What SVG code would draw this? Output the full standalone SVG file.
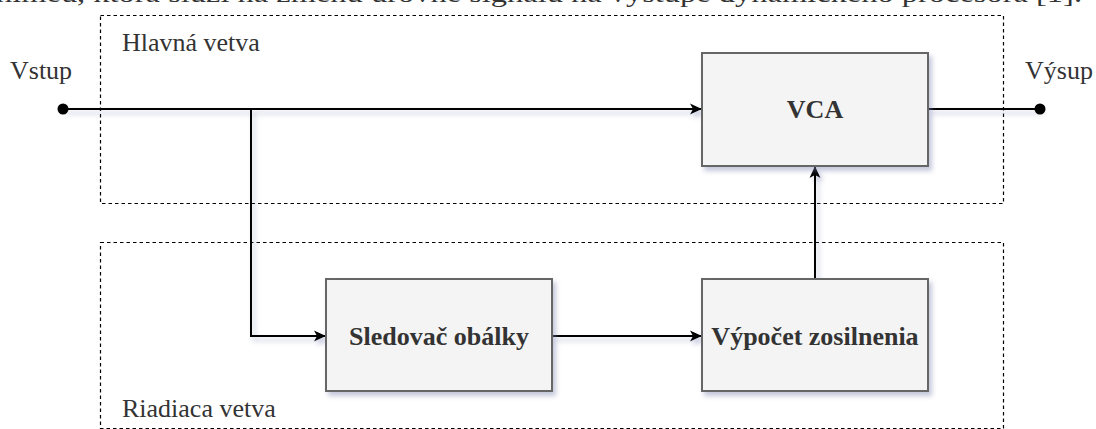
<svg xmlns="http://www.w3.org/2000/svg" width="1096" height="429" viewBox="0 0 1096 429">
<style>
.t{font-family:"Liberation Serif","Times New Roman",serif;fill:#333}
.lbl{font-size:26px;font-weight:bold;text-anchor:middle}
.reg{font-size:26px}
.box{fill:#f4f4f4;stroke:#666;stroke-width:2}
.grp{fill:none;stroke:#000;stroke-width:1.2;stroke-dasharray:3.5 3}
.ln{fill:none;stroke:#000;stroke-width:2}
</style>
<defs>
<filter id="sh" x="-10%" y="-10%" width="130%" height="140%">
<feDropShadow dx="3" dy="4" stdDeviation="2.5" flood-color="#7a84b0" flood-opacity="0.45"/>
</filter>
<marker id="ar" markerWidth="12" markerHeight="12" refX="11" refY="6" orient="auto" markerUnits="userSpaceOnUse">
<path d="M0,0.5 L12,6 L0,11.5 L3,6 Z" fill="#000"/>
</marker>
</defs>
<rect width="1096" height="429" fill="#fff"/>
<text class="t reg" x="-4" y="2" textLength="1086" lengthAdjust="spacingAndGlyphs" fill="#222">nimeu, ktorá slúži na zmenu úrovne signálu na výstupe dynamického procesora [1].</text>
<g id="hlavna-vetva">
<rect class="grp" x="100.5" y="15.5" width="903" height="188"/>
<text class="t reg" x="122" y="51">Hlavná vetva</text>
</g>
<g id="riadiaca-vetva">
<rect class="grp" x="100.5" y="242.5" width="903" height="186"/>
<text class="t reg" x="122" y="417">Riadiaca vetva</text>
</g>
<g id="connectors" filter="url(#sh)">
<path class="ln" d="M63,109 H701" marker-end="url(#ar)"/>
<path class="ln" d="M251,109 V336 H325" marker-end="url(#ar)"/>
<path class="ln" d="M552,336 H701" marker-end="url(#ar)"/>
<path class="ln" d="M815,279 V167" marker-end="url(#ar)"/>
<path class="ln" d="M928,109 H1040"/>
</g>
<g id="vstup">
<circle cx="63" cy="109" r="5.5" fill="#000"/>
<text class="t reg" x="10" y="79">Vstup</text>
</g>
<g id="vystup">
<circle cx="1040" cy="109" r="5.5" fill="#000"/>
<text class="t reg" x="1025" y="79">Výsup</text>
</g>
<g id="vca">
<rect class="box" x="702" y="53" width="226" height="113" filter="url(#sh)"/>
<text class="t lbl" x="815" y="118">VCA</text>
</g>
<g id="sledovac">
<rect class="box" x="326" y="279" width="226" height="112" filter="url(#sh)"/>
<text class="t lbl" x="439" y="345">Sledovač obálky</text>
</g>
<g id="vypocet">
<rect class="box" x="702" y="279" width="226" height="112" filter="url(#sh)"/>
<text class="t lbl" x="815" y="345">Výpočet zosilnenia</text>
</g>
</svg>
